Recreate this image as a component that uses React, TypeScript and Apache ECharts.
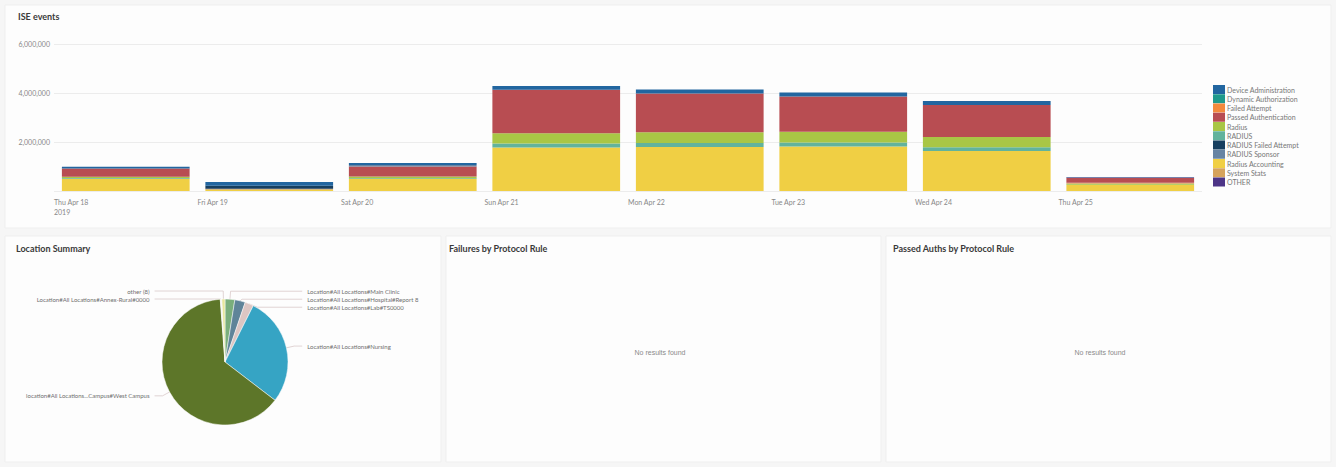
import React, { useEffect, useRef } from "react";
import * as echarts from "echarts";

// ---- Data ----
const days = ["Thu Apr 18", "Fri Apr 19", "Sat Apr 20", "Sun Apr 21", "Mon Apr 22", "Tue Apr 23", "Wed Apr 24", "Thu Apr 25"];
const tickLabels = [...days, ""];
const yearLabel = "2019";

const legendNames = [
  "Device Administration",
  "Dynamic Authorization",
  "Failed Attempt",
  "Passed Authentication",
  "Radius",
  "RADIUS",
  "RADIUS Failed Attempt",
  "RADIUS Sponsor",
  "Radius Accounting",
  "System Stats",
  "OTHER",
];
const legendColors = ["#2266a0", "#1f9a8c", "#f38a3c", "#b84d52", "#a9c645", "#62b39c", "#173f5f", "#6784a3", "#f0cf44", "#d6a35c", "#4d3587"];

// values per day (events)
const radiusAccounting = [500000, 60000, 490000, 1780000, 1800000, 1820000, 1630000, 240000];
const radiusUpper = [30000, 0, 30000, 160000, 160000, 160000, 160000, 20000];
const radiusLower = [50000, 10000, 70000, 420000, 440000, 440000, 410000, 40000];
const systemStats = [0, 0, 0, 0, 0, 0, 0, 40000];
const passedAuthentication = [340000, 20000, 410000, 1770000, 1580000, 1440000, 1310000, 200000];
const radiusFailedAttempt = [0, 120000, 0, 0, 0, 0, 0, 0];
const radiusSponsor = [0, 0, 60000, 0, 0, 0, 0, 0];
const deviceAdministration = [70000, 160000, 80000, 160000, 160000, 160000, 160000, 20000];
const failedAttempt = [0, 0, 0, 0, 0, 0, 0, 0];
const dynamicAuthorization = [0, 0, 0, 0, 0, 0, 0, 0];
const otherEvents = [0, 0, 0, 0, 0, 0, 0, 10000];

const yMax = 6000000;
const yStep = 2000000;

// stacking order: bottom first
const stackOrder: [string, number[]][] = [
  ["Radius Accounting", radiusAccounting],
  ["RADIUS", radiusUpper],
  ["Radius", radiusLower],
  ["System Stats", systemStats],
  ["Failed Attempt", failedAttempt],
  ["Passed Authentication", passedAuthentication],
  ["Dynamic Authorization", dynamicAuthorization],
  ["RADIUS Sponsor", radiusSponsor],
  ["RADIUS Failed Attempt", radiusFailedAttempt],
  ["Device Administration", deviceAdministration],
  ["OTHER", otherEvents],
];

// Location summary pie (clockwise from 12 o'clock)
const locationNames = [
  "Location#All Locations#Main Clinic",
  "Location#All Locations#Hospital#Report 8",
  "Location#All Locations#Lab#TS0000",
  "Location#All Locations#Nursing",
  "location#All Locations...Campus#West Campus",
  "Location#All Locations#Annex-Rural#0000",
  "other (8)",
];
const locationValues = [2.5, 2.7, 2.2, 28, 63.4, 0.4, 0.8];
const locationColors = ["#7aae7c", "#5f8499", "#dcc6c3", "#36a4c4", "#5d7629", "#f4f4f4", "#e6e69c"];

const panelTitles = ["ISE events", "Location Summary", "Failures by Protocol Rule", "Passed Auths by Protocol Rule"];
const emptyText = "No results found";

export default function App() {
  const ref = useRef<HTMLDivElement>(null);
  useEffect(() => {
    document.body.style.margin = "0";
    const chart = echarts.init(ref.current!, undefined, { renderer: "svg" });
    const colorOf = (n: string) => legendColors[legendNames.indexOf(n)];
    const titleStyle = { fontSize: 9, fontWeight: "bold", fill: "#3a3a3a", fontFamily: "Lato, sans-serif" };
    const panel = (x: number, y: number, w: number, h: number) => ({
      type: "rect",
      z: -10,
      shape: { x, y, width: w, height: h },
      style: { fill: "#fdfdfd", stroke: "#efefef", lineWidth: 1 },
    });
    chart.setOption({
      animation: false,
      backgroundColor: "#f6f6f6",
      textStyle: { fontFamily: "Lato, sans-serif" },
      graphic: {
        elements: [
          panel(5, 5, 1326, 223),
          panel(5, 236, 436, 226),
          panel(446, 236, 435, 226),
          panel(886, 236, 445, 226),
          { type: "text", x: 18, y: 12, style: { ...titleStyle, text: panelTitles[0] } },
          { type: "text", x: 16, y: 244, style: { ...titleStyle, text: panelTitles[1] } },
          { type: "text", x: 449, y: 244, style: { ...titleStyle, text: panelTitles[2] } },
          { type: "text", x: 893, y: 244, style: { ...titleStyle, text: panelTitles[3] } },
          { type: "text", x: 660, y: 352, style: { text: emptyText, fontSize: 7, fill: "#8a8a8a", align: "center", verticalAlign: "middle" } },
          { type: "text", x: 1100, y: 352, style: { text: emptyText, fontSize: 7, fill: "#8a8a8a", align: "center", verticalAlign: "middle" } },
        ],
      },
      grid: { left: 54, right: 134, top: 44, bottom: 276, containLabel: false },
      xAxis: [
        {
          type: "category",
          data: days,
          axisLine: { show: false },
          axisTick: { show: false },
          axisLabel: { show: false },
        },
        {
          type: "category",
          data: tickLabels,
          boundaryGap: false,
          position: "bottom",
          axisLine: { show: false },
          axisTick: { show: false },
          axisLabel: {
            align: "left",
            fontSize: 7,
            color: "#888",
            margin: 6,
            lineHeight: 10,
            interval: 0,
            formatter: (v: string, i: number) => (i === 0 ? v + "\n" + yearLabel : v),
          },
        },
      ],
      yAxis: {
        type: "value",
        min: 0,
        max: yMax,
        interval: yStep,
        axisLine: { show: false },
        axisTick: { show: false },
        splitLine: { lineStyle: { color: "#ececec" } },
        axisLabel: {
          fontSize: 7,
          color: "#888",
          margin: 4,
          formatter: (v: number) => (v === 0 ? "" : v.toLocaleString("en-US")),
        },
      },
      legend: {
        orient: "vertical",
        right: 2,
        left: 1208,
        top: 80,
        itemWidth: 12,
        itemHeight: 9,
        itemGap: 0.25,
        icon: "rect",
        data: legendNames,
        textStyle: { fontSize: 7, color: "#777", padding: [0, 0, 0, -3] },
      },
      series: [
        ...stackOrder.map(([name, vals]) => ({
          name,
          type: "bar",
          stack: "events",
          xAxisIndex: 0,
          barCategoryGap: "11%",
          data: vals,
          itemStyle: { color: colorOf(name) },
        })),
        {
          name: "Location Summary",
          type: "pie",
          center: [225, 362],
          radius: 63,
          startAngle: 90,
          clockwise: true,
          data: locationNames.map((n, i) => ({ name: n, value: locationValues[i], itemStyle: { color: locationColors[i] } })),
          label: { formatter: "{b}", fontSize: 6, color: "#6f6f6f", alignTo: "labelLine" },
          labelLine: { length: 8, length2: 8, lineStyle: { color: "#d9c9c9", width: 0.8 } },
          itemStyle: { borderColor: "#fdfdfd", borderWidth: 0.5 },
        },
      ],
    });
    return () => chart.dispose();
  }, []);
  return <div ref={ref} style={{ width: 1336, height: 467 }} />;
}
